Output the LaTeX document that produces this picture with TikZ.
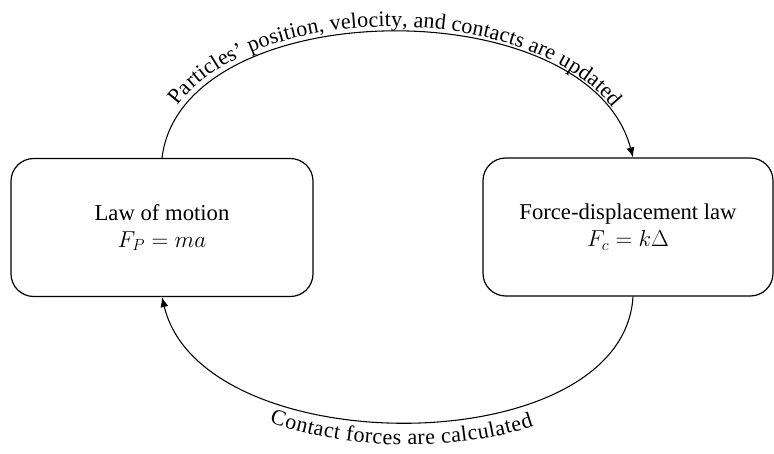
\documentclass[tikz,border=0pt]{standalone}
\usepackage{fontspec}
\setmainfont{Liberation Serif}
\usetikzlibrary{arrows.meta,decorations.text}
\tikzstyle{law_box} = [rectangle, draw=black, rounded corners=17pt, line width=0.9pt, align=center, minimum height=103.5pt, font=\fontsize{17}{20.5}\selectfont]
\tikzstyle{loop_arrow} = [->, >={Latex[length=7.5pt,width=6pt]}, line width=0.8pt]
\begin{document}
\begin{tikzpicture}[x=0.75pt,y=-0.75pt]
\useasboundingbox (0,0) rectangle (774,453);
\node [law_box, minimum width=226.5pt] (motion) at (162,227.5) {Law of motion\\ $F_P = ma$};
\node [law_box, minimum width=217.5pt] (contact) at (628,227) {Force-displacement law\\ $F_c = k\Delta$};
% update step
\draw [loop_arrow, postaction={decorate, decoration={text along path, text align=center, raise=4pt,
    text={|\fontsize{16.5}{20}\selectfont|Particles’ position, velocity, and contacts are updated}}}]
  (motion.north) .. controls +(20,-165) and +(-45,-170) .. ([xshift=3.75pt]contact.north);
% force step
\draw [loop_arrow, <-, postaction={decorate, decoration={text along path, text align=center, raise=-17pt,
    text={|\fontsize{16.5}{20}\selectfont|Contact forces are calculated}}}]
  (motion.south) .. controls +(40,167) and +(-10,167) .. ([xshift=3.75pt]contact.south);
\end{tikzpicture}
\end{document}
